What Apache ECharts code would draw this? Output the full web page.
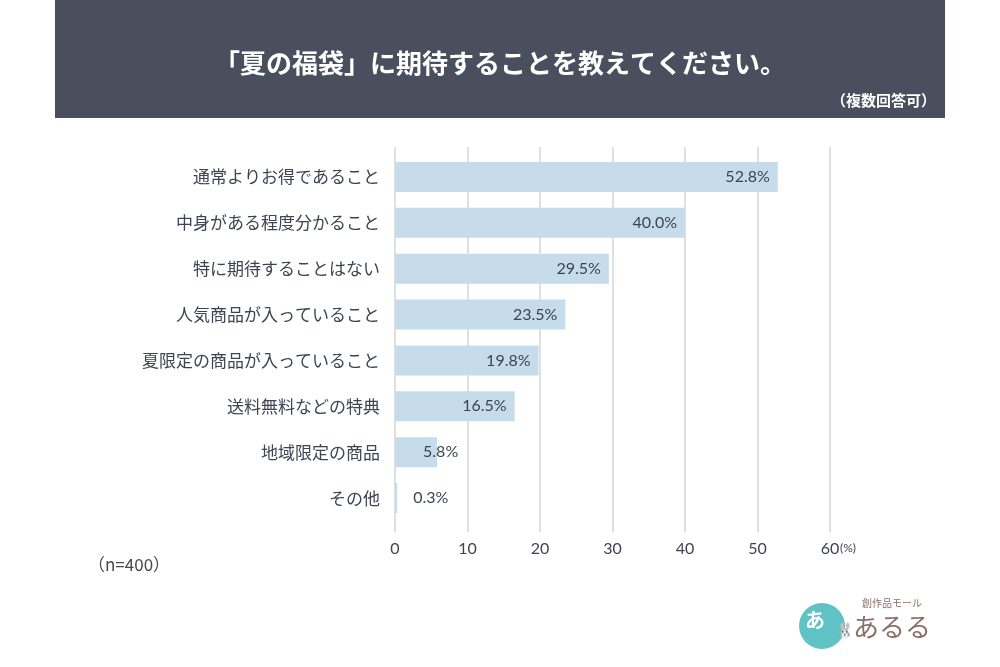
<!DOCTYPE html>
<html><head><meta charset="utf-8">
<script src="https://cdn.jsdelivr.net/npm/echarts@6/dist/echarts.min.js"></script>
<style>html,body{margin:0;padding:0;background:#fff;}#c{width:1000px;height:667px;}</style>
</head><body><div id="c"></div>
<script>
const categories = ['通常よりお得であること','中身がある程度分かること','特に期待することはない','人気商品が入っていること','夏限定の商品が入っていること','送料無料などの特典','地域限定の商品','その他'];
const values = [52.8, 40.0, 29.5, 23.5, 19.8, 16.5, 5.8, 0.3];
const xTicks = [0, 10, 20, 30, 40, 50, 60];
const titleText = '「夏の福袋」に期待することを教えてください。';
const subText = '（複数回答可）';
const noteText = '（n=400）';

const JP = '"Noto Sans CJK JP", "Noto Sans", sans-serif';
const NUM = 'Lato, "Noto Sans", sans-serif';
const txt = '#3f4452';

const chart = echarts.init(document.getElementById('c'));
const barData = values.map((v, i) => {
  const item = { value: v };
  if (v < 3) item.label = { position: 'right', distance: 16 };
  else if (v < 10) item.label = { position: 'right', distance: 0, offset: [-14, 0] };
  return item;
});
chart.setOption({
  animation: false,
  graphic: [
    { type: 'rect', shape: { x: 55, y: 0, width: 890, height: 118 }, style: { fill: '#4a4f5e' }, z: 0 },
    { type: 'text', x: 500, y: 63, style: { text: titleText, fill: '#fff', font: 'bold 26px ' + JP, align: 'center', verticalAlign: 'middle' } },
    { type: 'text', x: 936, y: 100, style: { text: subText, fill: '#fff', font: 'bold 15px ' + JP, align: 'right', verticalAlign: 'middle' } },
    { type: 'text', x: 88, y: 565, style: { text: noteText, fill: '#4a4a4a', font: '17px ' + JP, align: 'left', verticalAlign: 'middle' } },
    { type: 'text', x: 840, y: 548, style: { text: '(%)', fill: txt, font: '12px ' + NUM, align: 'left', verticalAlign: 'middle' } },
    { type: 'circle', shape: { cx: 822, cy: 626, r: 23 }, style: { fill: '#5fc2c4' } },
    { type: 'text', x: 815, y: 620, style: { text: 'あ', fill: '#fff', font: 'bold 20px ' + JP, align: 'center', verticalAlign: 'middle' } },
    { type: 'text', x: 844, y: 630, style: { text: '🐰', fill: '#8b7068', font: '14px ' + JP, align: 'center', verticalAlign: 'middle' } },
    { type: 'text', x: 892, y: 603, style: { text: '創作品モール', fill: '#8b7068', font: '10px ' + JP, align: 'center', verticalAlign: 'middle' } },
    { type: 'text', x: 892, y: 627, style: { text: 'あるる', fill: '#8b7068', font: '26px ' + JP, align: 'center', verticalAlign: 'middle' } }
  ],
  grid: [
    { left: 395, width: 435, top: 147, height: 385 },
    { left: 395, width: 435, top: 154, height: 367 }
  ],
  xAxis: [
    { type: 'value', gridIndex: 0, min: 0, max: 60, interval: 10,
      axisLine: { show: false }, axisTick: { show: false },
      splitLine: { show: true, lineStyle: { color: '#d4d4d4', width: 1.5 } },
      axisLabel: { margin: 9, color: txt, fontSize: 16, fontFamily: NUM,
        formatter: v => xTicks.includes(v) ? String(v) : '' } },
    { type: 'value', gridIndex: 1, min: 0, max: 60, interval: 10, show: false }
  ],
  yAxis: [
    { type: 'category', gridIndex: 0, show: false, data: categories },
    { type: 'category', gridIndex: 1, data: categories, inverse: true,
      axisLine: { show: false }, axisTick: { show: false },
      axisLabel: { margin: 15, color: txt, fontSize: 17, fontFamily: JP } }
  ],
  series: [{
    type: 'bar', xAxisIndex: 1, yAxisIndex: 1, data: barData, barWidth: 30,
    itemStyle: { color: '#c6dcea' },
    label: { show: true, position: 'insideRight', distance: 8, color: txt, fontSize: 16, fontFamily: NUM,
      formatter: p => p.value.toFixed(1) + '%' }
  }]
});
</script></body></html>
